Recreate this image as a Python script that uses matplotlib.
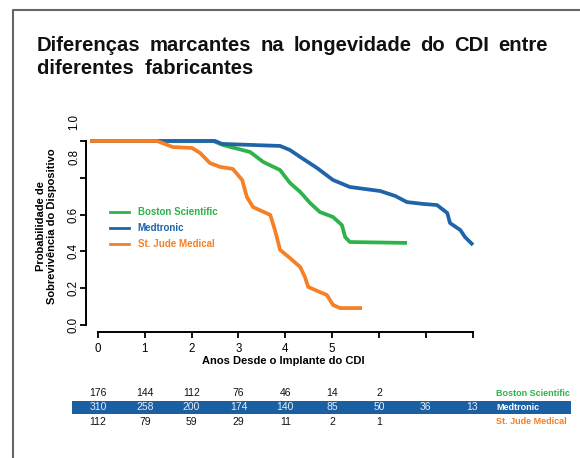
import matplotlib
matplotlib.use("Agg")
import matplotlib.pyplot as plt
import matplotlib.transforms as mtransforms
from matplotlib.lines import Line2D
from matplotlib.patches import Rectangle

plt.rcParams['font.family'] = ['Liberation Sans', 'DejaVu Sans']

# survival curves (years, probability)
boston_x = [-0.17, 2.46, 2.67, 3.25, 3.53, 3.89, 4.10, 4.32, 4.53, 4.74, 5.02, 5.21, 5.28, 5.38, 6.60]
boston_y = [1.0, 1.0, 0.978, 0.940, 0.886, 0.842, 0.772, 0.723, 0.663, 0.614, 0.587, 0.543, 0.478, 0.451, 0.446]

medtronic_x = [-0.17, 2.50, 2.65, 3.89, 4.10, 4.32, 4.68, 5.02, 5.38, 6.03, 6.35, 6.60, 6.94, 7.24, 7.46, 7.52, 7.74, 7.84, 8.01]
medtronic_y = [1.0, 1.0, 0.984, 0.973, 0.951, 0.913, 0.853, 0.788, 0.750, 0.728, 0.701, 0.668, 0.658, 0.652, 0.609, 0.554, 0.516, 0.478, 0.435]

stjude_x = [-0.17, 1.26, 1.60, 2.01, 2.18, 2.39, 2.61, 2.88, 3.08, 3.18, 3.31, 3.68, 3.78, 3.89, 4.10, 4.32, 4.42, 4.49, 4.74, 4.89, 5.02, 5.17, 5.64]
stjude_y = [1.0, 1.0, 0.967, 0.962, 0.935, 0.880, 0.859, 0.848, 0.788, 0.696, 0.641, 0.598, 0.516, 0.408, 0.364, 0.315, 0.261, 0.207, 0.179, 0.163, 0.109, 0.092, 0.092]

# numbers at risk per year
years = [0, 1, 2, 3, 4, 5, 6, 7, 8]
risk_boston = [176, 144, 112, 76, 46, 14, 2]
risk_medtronic = [310, 258, 200, 174, 140, 85, 50, 36, 13]
risk_stjude = [112, 79, 59, 29, 11, 2, 1]

names = ['Boston Scientific', 'Medtronic', 'St. Jude Medical']
colors = ['#2db34a', '#1f64a9', '#f58025']

W, H = 580, 458
fig = plt.figure(figsize=(W / 100, H / 100), dpi=100)

# frame of the slide
fig.add_artist(Line2D([13 / W, 13 / W, 1.0], [0.0, 1 - 10 / H, 1 - 10 / H],
                      color='#666666', lw=1.5, transform=fig.transFigure))

# title, first line justified between x=37 and x=548 px
title1 = 'Diferenças marcantes na longevidade do CDI entre'.split()
title2 = 'diferentes  fabricantes'
tsize = 14.6
renderer = fig.canvas.get_renderer()
words = [fig.text(0, 1 - 51 / H, w, fontsize=tsize, fontweight='bold', va='baseline', color='#111111')
         for w in title1]
widths = [t.get_window_extent(renderer).width for t in words]
gap = (548 - 37 - sum(widths)) / (len(words) - 1)
xpos = 37
for t, wd in zip(words, widths):
    t.set_x(xpos / W)
    xpos += wd + gap
fig.text(37 / W, 1 - 74 / H, title2, fontsize=tsize, fontweight='bold', va='baseline', color='#111111')

ax_l, ax_r, ax_b, ax_t = 86, 480, 332, 120
ax = fig.add_axes([ax_l / W, 1 - ax_b / H, (ax_r - ax_l) / W, (ax_b - ax_t) / H])
ax.set_xlim(-0.256, 8.16)
ax.set_ylim(-0.038, 1.114)

for xs, ys, c, n in [(boston_x, boston_y, colors[0], names[0]),
                     (medtronic_x, medtronic_y, colors[1], names[1]),
                     (stjude_x, stjude_y, colors[2], names[2])]:
    ax.plot(xs, ys, color=c, lw=2.7, solid_joinstyle='round', solid_capstyle='butt', label=n)

for s in ['top', 'right']:
    ax.spines[s].set_visible(False)
ax.spines['left'].set_bounds(0, 1)
ax.spines['bottom'].set_bounds(0, 8)
ax.spines['left'].set_linewidth(1.4)
ax.spines['bottom'].set_linewidth(1.4)

ax.set_xticks(years)
ax.set_xticklabels(['0', '1', '2', '3', '4', '5', '', '', ''])
ax.set_yticks([0, 0.2, 0.4, 0.6, 0.8, 1.0])
ax.set_yticklabels(['0.0', '0.2', '0.4', '0.6', '', ''], rotation=90, va='center')
# the top two labels sit above their ticks in the original
ax.set_yticks([0.913, 1.103], minor=True)
ax.set_yticklabels(['0.8', '1.0'], minor=True, rotation=90, va='center')
ax.tick_params(axis='both', which='major', length=4, width=1.4, labelsize=8.3, color='#111111')
ax.tick_params(axis='y', which='major', pad=1)
ax.tick_params(axis='y', which='minor', length=0, pad=4, labelsize=8.3)
ax.tick_params(axis='x', pad=4)

ax.set_xlabel('Anos Desde o Implante do CDI', fontsize=8, fontweight='bold', labelpad=1)
ax.set_ylabel('Probabilidade de\nSobrevivência do Dispositivo', fontsize=8, fontweight='bold',
              labelpad=7.5, linespacing=1.05)

leg_handles = [Line2D([0], [0], color=c, lw=2) for c in colors]
leg = ax.legend(leg_handles, names, loc='upper left', bbox_to_anchor=(0.061, 0.59),
                frameon=False, borderpad=0, borderaxespad=0, handlelength=1.9,
                handletextpad=0.95, labelspacing=0.62, prop={'weight': 'bold', 'size': 7})
for t, c in zip(leg.get_texts(), colors):
    t.set_color(c)

# number-at-risk table
trans = mtransforms.blended_transform_factory(ax.transData, fig.transFigure)
fig.add_artist(Rectangle((72 / W, 1 - 414 / H), (571 - 72) / W, 13 / H, zorder=-1,
                         facecolor='#1b5fa3', edgecolor='none', transform=fig.transFigure))
rows = [(risk_boston, 393, '#111111'), (risk_medtronic, 407, '#e6ecf5'), (risk_stjude, 422, '#111111')]
for vals, py, c in rows:
    for yr, v in zip(years, vals):
        ax.text(yr, 1 - py / H, str(v), transform=trans, ha='center', va='center',
                fontsize=7.5, color=c, clip_on=False)
label_colors = [colors[0], '#ffffff', colors[2]]
for (vals, py, c), n, lc in zip(rows, names, label_colors):
    fig.text(496 / W, 1 - py / H, n, ha='left', va='center', fontsize=6.5,
             fontweight='bold', color=lc)

fig.savefig('out.png', dpi=100)
